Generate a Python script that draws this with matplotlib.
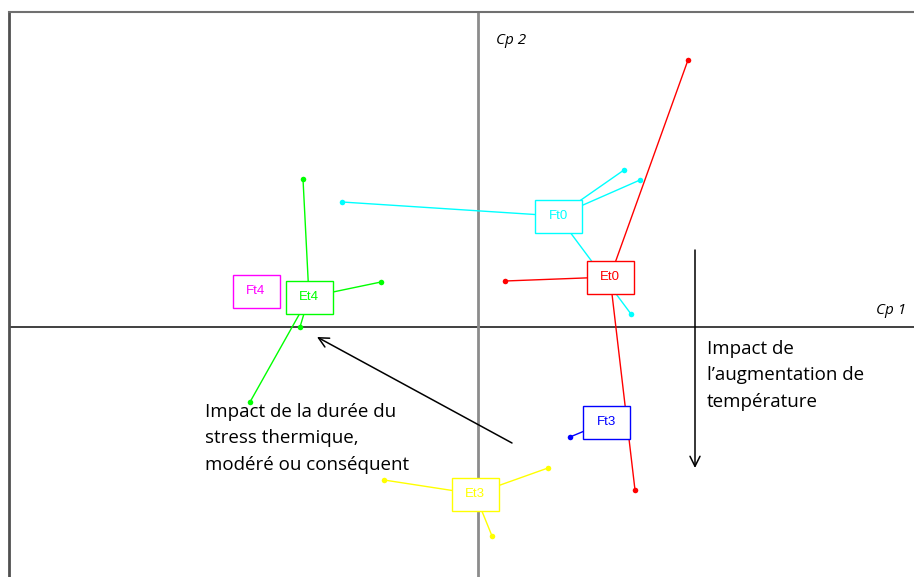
import matplotlib
matplotlib.use("Agg")
import matplotlib.pyplot as plt
from matplotlib.patches import Rectangle

# ---- data (principal component coordinates) ----
groups = ["Ft0", "Et0", "Et4", "Ft4", "Ft3", "Et3"]
colors = ["#00FFFF", "#FF0000", "#00FF00", "#FF00FF", "#0000FF", "#FFFF00"]
centroid_x = [0.80, 1.32, -1.69, -2.22, 1.28, -0.03]
centroid_y = [1.11, 0.50, 0.30, 0.36, -0.95, -1.67]
points_x = [
    [-1.36, 1.46, 1.62, 1.53],
    [2.10, 0.27, 1.57],
    [-1.75, -0.97, -1.78, -2.28],
    [],
    [0.92],
    [-0.94, 0.70, 0.14],
]
points_y = [
    [1.25, 1.57, 1.47, 0.13],
    [2.67, 0.46, -1.63],
    [1.48, 0.45, 0.00, -0.75],
    [],
    [-1.10],
    [-1.53, -1.41, -2.09],
]
axis_labels = ["Cp 1", "Cp 2"]
note_duree = "Impact de la durée du\nstress thermique,\nmodéré ou conséquent"
note_temp = "Impact de\nl\u2019augmentation de\ntempérature"

# ---- figure ----
fig = plt.figure(figsize=(9.14, 5.77), dpi=100)
ax = fig.add_axes([9 / 914, 0, 905 / 914, 565 / 577])
ax.set_xlim(-4.69, 4.36)
ax.set_ylim(-2.50, 3.15)
ax.set_xticks([])
ax.set_yticks([])
ax.spines["right"].set_visible(False)
ax.spines["bottom"].set_visible(False)
ax.spines["top"].set_color("#707070")
ax.spines["top"].set_linewidth(1.5)
ax.spines["left"].set_color("#505050")
ax.spines["left"].set_linewidth(2.0)

ax.axhline(0, color="#202020", lw=1.2, zorder=1)
ax.axvline(0, color="#8c8c8c", lw=2.0, zorder=1)

font = "Open Sans"
ax.text(0.18, 2.87, axis_labels[1], fontsize=11, style="italic", family=font,
        ha="left", va="center", color="black")
ax.text(4.28, 0.16, axis_labels[0], fontsize=11, style="italic", family=font,
        ha="right", va="center", color="black")

box_w, box_h = 0.47, 0.33
for g, c, cx, cy, px, py in zip(groups, colors, centroid_x, centroid_y, points_x, points_y):
    for x, y in zip(px, py):
        ax.plot([cx, x], [cy, y], color=c, lw=1.0, zorder=2, solid_capstyle="butt")
    if px:
        ax.plot(px, py, "o", color=c, ms=4, mec="none", zorder=3)

for g, c, cx, cy in zip(groups, colors, centroid_x, centroid_y):
    ax.add_patch(Rectangle((cx - box_w / 2, cy - box_h / 2), box_w, box_h,
                           facecolor="white", edgecolor=c, lw=1.0, zorder=4))
    ax.text(cx, cy, g, color=c, fontsize=9.5, family="Liberation Sans",
            ha="center", va="center", zorder=5)

# annotations
ax.annotate("", xy=(-1.61, -0.10), xytext=(0.34, -1.16),
            arrowprops=dict(arrowstyle="->", color="black", lw=1.1,
                            mutation_scale=18, shrinkA=0, shrinkB=0), zorder=6)
ax.annotate("", xy=(2.17, -1.41), xytext=(2.17, 0.77),
            arrowprops=dict(arrowstyle="->", color="black", lw=1.1,
                            mutation_scale=18, shrinkA=0, shrinkB=0), zorder=6)

ax.text(-2.73, -0.76, note_duree, fontsize=13.5, family=font, ha="left", va="top",
        linespacing=1.59, color="black", zorder=6)
ax.text(2.29, -0.13, note_temp, fontsize=13.5, family=font, ha="left", va="top",
        linespacing=1.59, color="black", zorder=6)

fig.savefig("out.png", dpi=100, facecolor="white")
